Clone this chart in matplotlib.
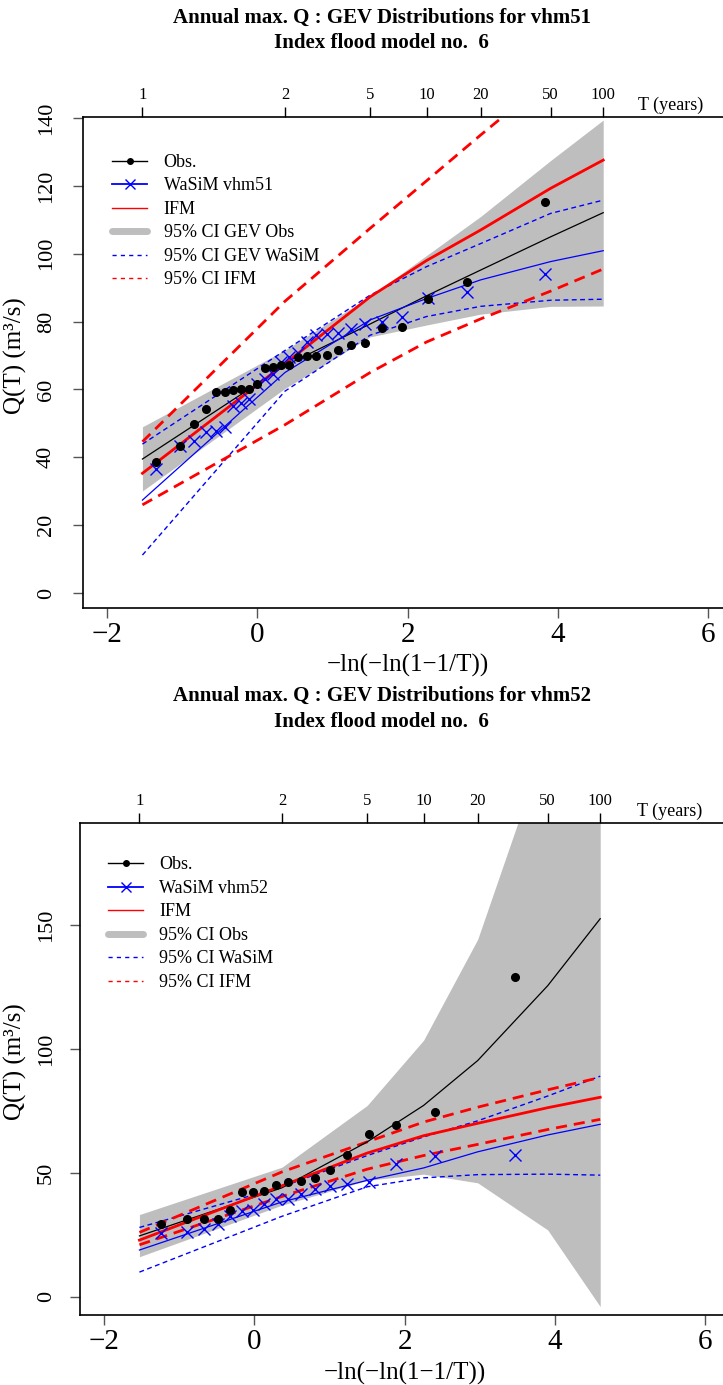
import numpy as np
import matplotlib
matplotlib.use("Agg")
import matplotlib.pyplot as plt
from matplotlib.lines import Line2D

plt.rcParams['font.family'] = ['Liberation Serif', 'DejaVu Serif']
plt.rcParams['lines.scale_dashes'] = False

# ---------------- data: return periods at which curves are given ----------------
T_curve = [1.01, 2, 5, 10, 20, 50, 100]
T_ticks = [1.01, 2, 5, 10, 20, 50, 100]
T_tick_labels = ["1", "2", "5", "10", "20", "50", "100"]

# ---------------- panel 1: vhm51 ----------------
x_obs1 = [-1.346, -1.036, -0.843, -0.690, -0.557, -0.436, -0.323, -0.215, -0.109,
          -0.005, 0.099, 0.204, 0.312, 0.422, 0.537, 0.658, 0.786, 0.924, 1.074,
          1.241, 1.430, 1.651, 1.921, 2.271, 2.787, 3.832]
q_obs1 = [38.7, 43.4, 49.7, 54.2, 59.2, 59.3, 59.7, 60.0, 60.2, 61.5, 66.2, 66.7,
          67.2, 67.3, 69.5, 69.8, 70.0, 70.3, 71.6, 73.0, 73.8, 78.2, 78.3, 86.6,
          91.8, 115.3]
q_sim1 = [36.7, 43.4, 44.8, 47.4, 47.7, 49.0, 55.1, 56.1, 57.1, 61.5, 63.0, 64.5,
          68.2, 69.7, 70.8, 74.1, 76.2, 76.3, 76.5, 77.9, 79.3, 79.8, 81.3, 87.0,
          88.8, 94.0]
gev_obs1 = [39.5, 67.0, 79.3, 87.6, 95.2, 105.0, 112.1]
gev_obs1_lo = [30.1, 60.3, 75.5, 79.0, 82.2, 84.5, 84.6]
gev_obs1_hi = [49.0, 71.6, 87.5, 99.5, 111.0, 127.5, 139.4]
gev_sim1 = [27.4, 65.0, 80.5, 86.8, 92.3, 97.7, 100.9]
gev_sim1_lo = [11.2, 59.5, 76.0, 81.5, 84.5, 86.3, 86.6]
gev_sim1_hi = [43.9, 71.5, 87.8, 96.2, 103.0, 111.9, 115.8]
ifm1 = [35.3, 67.6, 87.3, 98.0, 107.0, 119.3, 127.6]
ifm1_lo = [26.0, 49.6, 65.0, 74.0, 80.8, 89.0, 95.5]
ifm1_hi = [44.6, 86.0, 107.5, 121.5, 135.0, 152.0, 165.0]

# ---------------- panel 2: vhm52 ----------------
x_obs2 = [-1.246, -0.897, -0.671, -0.487, -0.322, -0.167, -0.016, 0.134, 0.288,
          0.447, 0.616, 0.800, 1.004, 1.238, 1.520, 1.882, 2.408, 3.461]
q_obs2 = [29.4, 31.4, 31.4, 31.5, 35.0, 42.3, 42.5, 42.6, 45.3, 46.4, 46.6, 48.0,
          51.0, 57.2, 65.5, 69.2, 74.5, 128.8]
q_sim2 = [25.9, 26.2, 27.2, 29.4, 32.8, 34.8, 35.0, 37.5, 39.4, 39.5, 41.4, 43.5,
          44.9, 45.4, 46.4, 53.6, 56.9, 57.1]
gev_obs2 = [24.6, 44.0, 62.5, 77.2, 95.3, 125.5, 152.5]
gev_obs2_lo = [16.2, 37.0, 47.0, 49.5, 46.0, 27.0, -3.9]
gev_obs2_hi = [33.2, 52.3, 77.2, 103.5, 144.2, 226.0, 300.0]
gev_sim2 = [18.9, 38.3, 47.0, 52.0, 58.5, 65.3, 69.6]
gev_sim2_lo = [10.0, 32.5, 44.4, 48.0, 49.3, 49.5, 49.1]
gev_sim2_hi = [28.0, 44.4, 57.0, 64.5, 71.0, 81.0, 89.0]
ifm2 = [22.9, 44.8, 58.0, 65.0, 70.0, 76.3, 80.5]
ifm2_lo = [21.0, 40.5, 51.5, 57.0, 61.5, 67.5, 71.6]
ifm2_hi = [26.0, 50.4, 62.5, 70.5, 76.5, 83.5, 88.5]


def gumbel_x(T):
    T = np.asarray(T, dtype=float)
    return -np.log(-np.log(1.0 - 1.0 / T))


def x_to_T(x):
    x = np.asarray(x, dtype=float)
    return 1.0 / (1.0 - np.exp(-np.exp(-x)))


GREY = '#BEBEBE'
BLUE = '#0000FF'
RED = '#FF0000'
FS_XTICK = 21
FS_YTICK = 16
FS_XLAB = 18
FS_YLAB = 18
FS_LEG = 13


def panel(fig, rect, ylim, yticks, x_obs, q_obs, q_sim, obs, obs_lo, obs_hi,
          sim, sim_lo, sim_hi, ifm, ifm_lo, ifm_hi, labels, title_y, title_name,
          leg_anchor, ylab_x, tyears_x, ypad):
    ax = fig.add_axes(rect)
    xc = gumbel_x(T_curve)
    ax.fill_between(xc, obs_lo, obs_hi, color=GREY, lw=0, zorder=1)
    ax.plot(xc, sim_lo, color=BLUE, lw=1.0, dashes=(3.5, 2.5), zorder=2)
    ax.plot(xc, sim_hi, color=BLUE, lw=1.0, dashes=(3.5, 2.5), zorder=2)
    ax.plot(xc, ifm_lo, color=RED, lw=2.0, dashes=(8, 5), zorder=2)
    ax.plot(xc, ifm_hi, color=RED, lw=2.0, dashes=(8, 5), zorder=2)
    ax.plot(xc, obs, color='black', lw=0.9, zorder=3)
    ax.plot(xc, sim, color=BLUE, lw=0.9, zorder=3)
    ax.plot(xc, ifm, color=RED, lw=2.0, zorder=3)
    ax.plot(x_obs, q_sim, ls='none', marker='x', ms=8, mew=1.0, color=BLUE, zorder=4)
    ax.plot(x_obs, q_obs, ls='none', marker='o', ms=5.5, color='black', zorder=5)

    ax.set_xlim(-2.32, 6.32)
    ax.set_ylim(*ylim)
    ax.set_xticks([-2, 0, 2, 4, 6])
    ax.set_xticklabels(['\u22122', '0', '2', '4', '6'])
    ax.set_yticks(yticks)
    ax.set_yticklabels([str(v) for v in yticks], rotation=90, va='center')
    ax.tick_params(direction='out', length=7, width=1.0, color='#555555')
    ax.tick_params(axis='x', labelsize=FS_XTICK, pad=3)
    ax.tick_params(axis='y', labelsize=FS_YTICK, pad=ypad)
    ax.spines['right'].set_visible(False)
    for s in ['left', 'bottom', 'top']:
        ax.spines[s].set_linewidth(1.2)

    sec = ax.secondary_xaxis('top', functions=(x_to_T, gumbel_x))
    sec.set_xticks(T_ticks)
    sec.set_xticklabels(T_tick_labels)
    sec.tick_params(direction='out', length=7, width=1.0, labelsize=12, pad=3)
    sec.spines['top'].set_visible(False)
    ax.text(tyears_x, 1.006, 'T (years)', transform=ax.transAxes, ha='center',
            va='bottom', fontsize=13)

    ax.text(0.5, -0.118, '\u2212ln(\u2212ln(1\u22121/T))', transform=ax.transAxes,
            ha='center', va='center', fontsize=FS_XLAB)
    ax.text(ylab_x, 0.515, 'Q(T) (m\u00b3/s)', transform=ax.transAxes, rotation=90,
            ha='center', va='center', fontsize=FS_YLAB)

    handles = [
        Line2D([], [], color='black', lw=1.0, marker='o', ms=4),
        Line2D([], [], color=BLUE, lw=1.3, marker='x', ms=7, mew=1.0),
        Line2D([], [], color=RED, lw=1.0),
        Line2D([], [], color=GREY, lw=5, solid_capstyle='round'),
        Line2D([], [], color=BLUE, lw=1.0, dashes=(3, 3)),
        Line2D([], [], color=RED, lw=1.0, dashes=(3, 3)),
    ]
    ax.legend(handles, labels, loc='upper left', bbox_to_anchor=leg_anchor,
              frameon=False, fontsize=FS_LEG, handlelength=1.95,
              handletextpad=0.9, labelspacing=0.36, borderpad=0, borderaxespad=0,
              numpoints=1)

    fig.text(0.528, title_y[0], 'Annual max. Q : GEV Distributions for ' + title_name,
             ha='center', va='center', fontsize=15, fontweight='bold')
    fig.text(0.528, title_y[1], 'Index flood model no.  6',
             ha='center', va='center', fontsize=15, fontweight='bold')
    return ax


fig = plt.figure(figsize=(7.23, 13.85), dpi=100)

panel(fig, [83 / 723, 1 - 608 / 1385, 649.5 / 723, 491 / 1385], (-4.4, 140.3),
      [0, 20, 40, 60, 80, 100, 120, 140], x_obs1, q_obs1, q_sim1,
      gev_obs1, gev_obs1_lo, gev_obs1_hi, gev_sim1, gev_sim1_lo, gev_sim1_hi,
      ifm1, ifm1_lo, ifm1_hi,
      ['Obs.', 'WaSiM vhm51', 'IFM', '95% CI GEV Obs', '95% CI GEV WaSiM', '95% CI IFM'],
      (1 - 18 / 1385, 1 - 43 / 1385), 'vhm51', (0.045, 0.925),
      (15 - 83) / 649.5, 0.904, 12.5)

panel(fig, [80 / 723, 1 - 1315 / 1385, 649.5 / 723, 492 / 1385], (-7.3, 191.1),
      [0, 50, 100, 150], x_obs2, q_obs2, q_sim2,
      gev_obs2, gev_obs2_lo, gev_obs2_hi, gev_sim2, gev_sim2_lo, gev_sim2_hi,
      ifm2, ifm2_lo, ifm2_hi,
      ['Obs.', 'WaSiM vhm52', 'IFM', '95% CI Obs', '95% CI WaSiM', '95% CI IFM'],
      (1 - 696 / 1385, 1 - 722 / 1385), 'vhm52', (0.043, 0.932),
      (15 - 80) / 649.5, 0.908, 10.5)

fig.savefig('out.png', dpi=100)
